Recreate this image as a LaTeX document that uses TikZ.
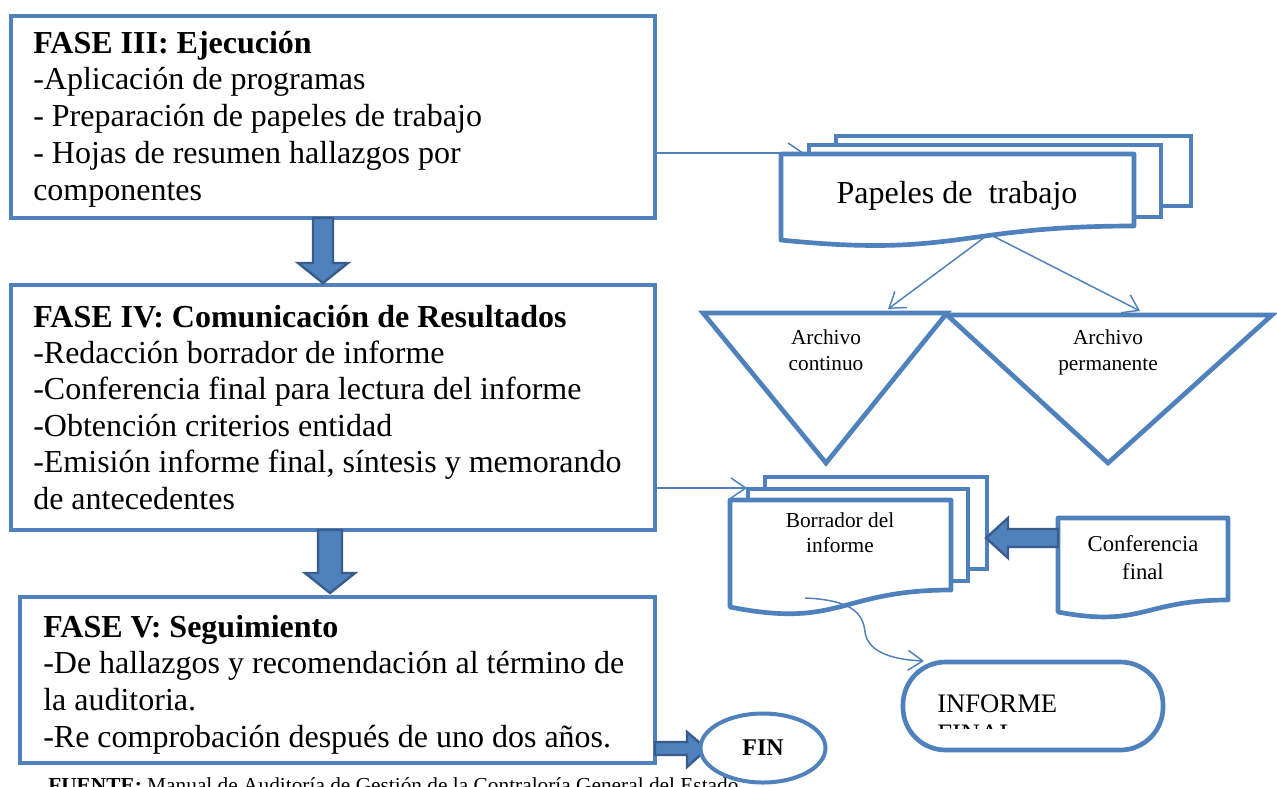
\documentclass[tikz,border=0pt]{standalone}
\usepackage{fontspec}
\setmainfont{Liberation Serif}
\usetikzlibrary{arrows.meta,shapes.geometric,calc}
\definecolor{bl}{HTML}{4F81BD}
\definecolor{bd}{HTML}{385D8A}
\tikzset{
  phase/.style={draw=bl, line width=3pt, rectangle, fill=white, inner sep=0pt, outer sep=0pt, anchor=north west},
  txt/.style={anchor=base west, inner sep=0pt, font=\fontsize{24}{27.5}\selectfont},
  shp/.style={draw=bl, line width=3.5pt, fill=white, line join=round},
  conn/.style={draw=bl, line width=1.1pt, -{Straight Barb[length=11pt,width=15pt,line width=1.1pt]}},
  blk/.style={fill=bl, draw=bd, line width=1.8pt, line join=miter},
  small/.style={inner sep=0pt, align=center, font=\fontsize{16}{19.5}\selectfont},
}
\begin{document}
\begin{tikzpicture}[x=0.75pt,y=-0.75pt]
\useasboundingbox (0,0) rectangle (1277,786);
\fill[white] (0,0) rectangle (1277,786);

% source line (partly below the page, as in the reference)
\node[anchor=base west, inner sep=0pt, font=\fontsize{16}{18}\selectfont] (src) at (48,792)
  {\textbf{FUENTE:} Manual de Auditoría de Gestión de la Contraloría General del Estado};

% phase boxes
\node[phase, minimum width=483pt, minimum height=151.5pt] (f3) at (11,16) {};
\node[phase, minimum width=483pt, minimum height=183.75pt] (f4) at (11,285) {};
\node[phase, minimum width=476.25pt, minimum height=124.5pt] (f5) at (20,597) {};

\foreach \t [count=\i] in {{\textbf{FASE III: Ejecución}},{-Aplicación de programas},{- Preparación de papeles de trabajo},{- Hojas de resumen hallazgos por},{componentes}}
  \node[txt] (a\i) at (33,{53+36.75*(\i-1)}) {\t};
\foreach \t [count=\i] in {{\textbf{FASE IV: Comunicación de Resultados}},{-Redacción borrador de informe},{-Conferencia final para lectura del informe},{-Obtención criterios entidad},{-Emisión informe final, síntesis y memorando},{de antecedentes}}
  \node[txt] (b\i) at (33,{327+36.4*(\i-1)}) {\t};
\foreach \t [count=\i] in {{\textbf{FASE V: Seguimiento}},{-De hallazgos y recomendación al término de},{la auditoria.},{-Re comprobación después de uno dos años.}}
  \node[txt] (c\i) at (43,{637+36.7*(\i-1)}) {\t};

% connector to Papeles de trabajo
\coordinate (pt) at (804,153);
\draw[conn] (f3.east |- pt) -- (pt);

% Papeles de trabajo (multidocument)
\draw[shp, line join=miter] (836,136) rectangle (1191,206);
\draw[shp, line join=miter] (809,145) rectangle (1161,217);
\draw[shp] (781,154) -- (1134,154) -- (1134,226) .. controls (957,226) and (957,258) .. (781,240) -- cycle;
\node[anchor=base, inner sep=0pt, font=\fontsize{24}{27.5}\selectfont] (pap) at (957,203) {Papeles de\ \ trabajo};

% triangles
\draw[shp, line join=miter] (703,313) -- (947,313) -- (826,463) -- cycle;
\draw[shp, line join=miter] (947,315) -- (1272,315) -- (1108,463) -- cycle;
\node[small] (ac) at (826,350) {Archivo\\continuo};
\node[small] (ap) at (1108,352) {Archivo\\permanente};

\coordinate (pb) at (989,234);
\coordinate (t1) at (888,309);
\coordinate (t2) at (1140,311);
\draw[conn] (pb) -- (t1);
\draw[conn] (pb) -- (t2);

% Borrador del informe (multidocument)
\coordinate (bt) at (747,488);
\draw[shp, line join=miter] (765,477) rectangle (987,569);
\draw[shp, line join=miter] (748,489) rectangle (968,581);
\draw[shp] (730,500) -- (951,500) -- (951,590) .. controls (840,590) and (840,629) .. (730,607) -- cycle;
\node[small, font=\fontsize{16}{18.75}\selectfont] (bor) at (840,533) {Borrador del\\informe};
\draw[conn] (f4.east |- bt) -- (bt);

% Conferencia final
\draw[shp] (1058,518) -- (1228,518) -- (1228,600) .. controls (1143,600) and (1143,628) .. (1058,612) -- cycle;
\node[small, font=\fontsize{17}{21}\selectfont] (conf) at (1143,558) {Conferencia\\final};

% block arrow Conferencia -> Borrador
\draw[blk] (1058,529) -- (1008,529) -- (1008,518) -- (986,538) -- (1008,558) -- (1008,547) -- (1058,547) -- cycle;

% INFORME FINAL terminal
\coordinate (bb) at (805,598);
\coordinate (ie) at (924,661);
\draw[conn] (bb) .. controls (850,600) and (863,612) .. (865,632) .. controls (868,655) and (900,660) .. (ie);
\node[draw=bl, line width=3.5pt, fill=white, rounded corners=32pt, minimum width=195pt, minimum height=66pt, anchor=north west, inner sep=0pt, outer sep=0pt] (inf) at (903,662) {};
\begin{scope}
  \clip (905,664) rectangle (1160,728);
  \node[anchor=north west, inner sep=0pt, align=left, font=\fontsize{20}{22.5}\selectfont] (inft) at (937,695) {INFORME\\FINAL};
\end{scope}

% block arrows between phases
\draw[blk] (313,218) -- (333,218) -- (333,263) -- (348,263) -- (323,283) -- (298,263) -- (313,263) -- cycle;
\draw[blk] (318,530) -- (342,530) -- (342,573) -- (355,573) -- (330,593) -- (305,573) -- (318,573) -- cycle;
\draw[blk] (655,742) -- (687,742) -- (687,732) -- (707,749) -- (687,767) -- (687,755) -- (655,755) -- cycle;

% FIN
\node[ellipse, draw=bl, line width=3pt, fill=white, minimum width=93.75pt, minimum height=51.75pt, inner sep=0pt, font=\fontsize{18}{20}\selectfont] (fin) at (763,748) {\textbf{FIN}};
\end{tikzpicture}
\end{document}
